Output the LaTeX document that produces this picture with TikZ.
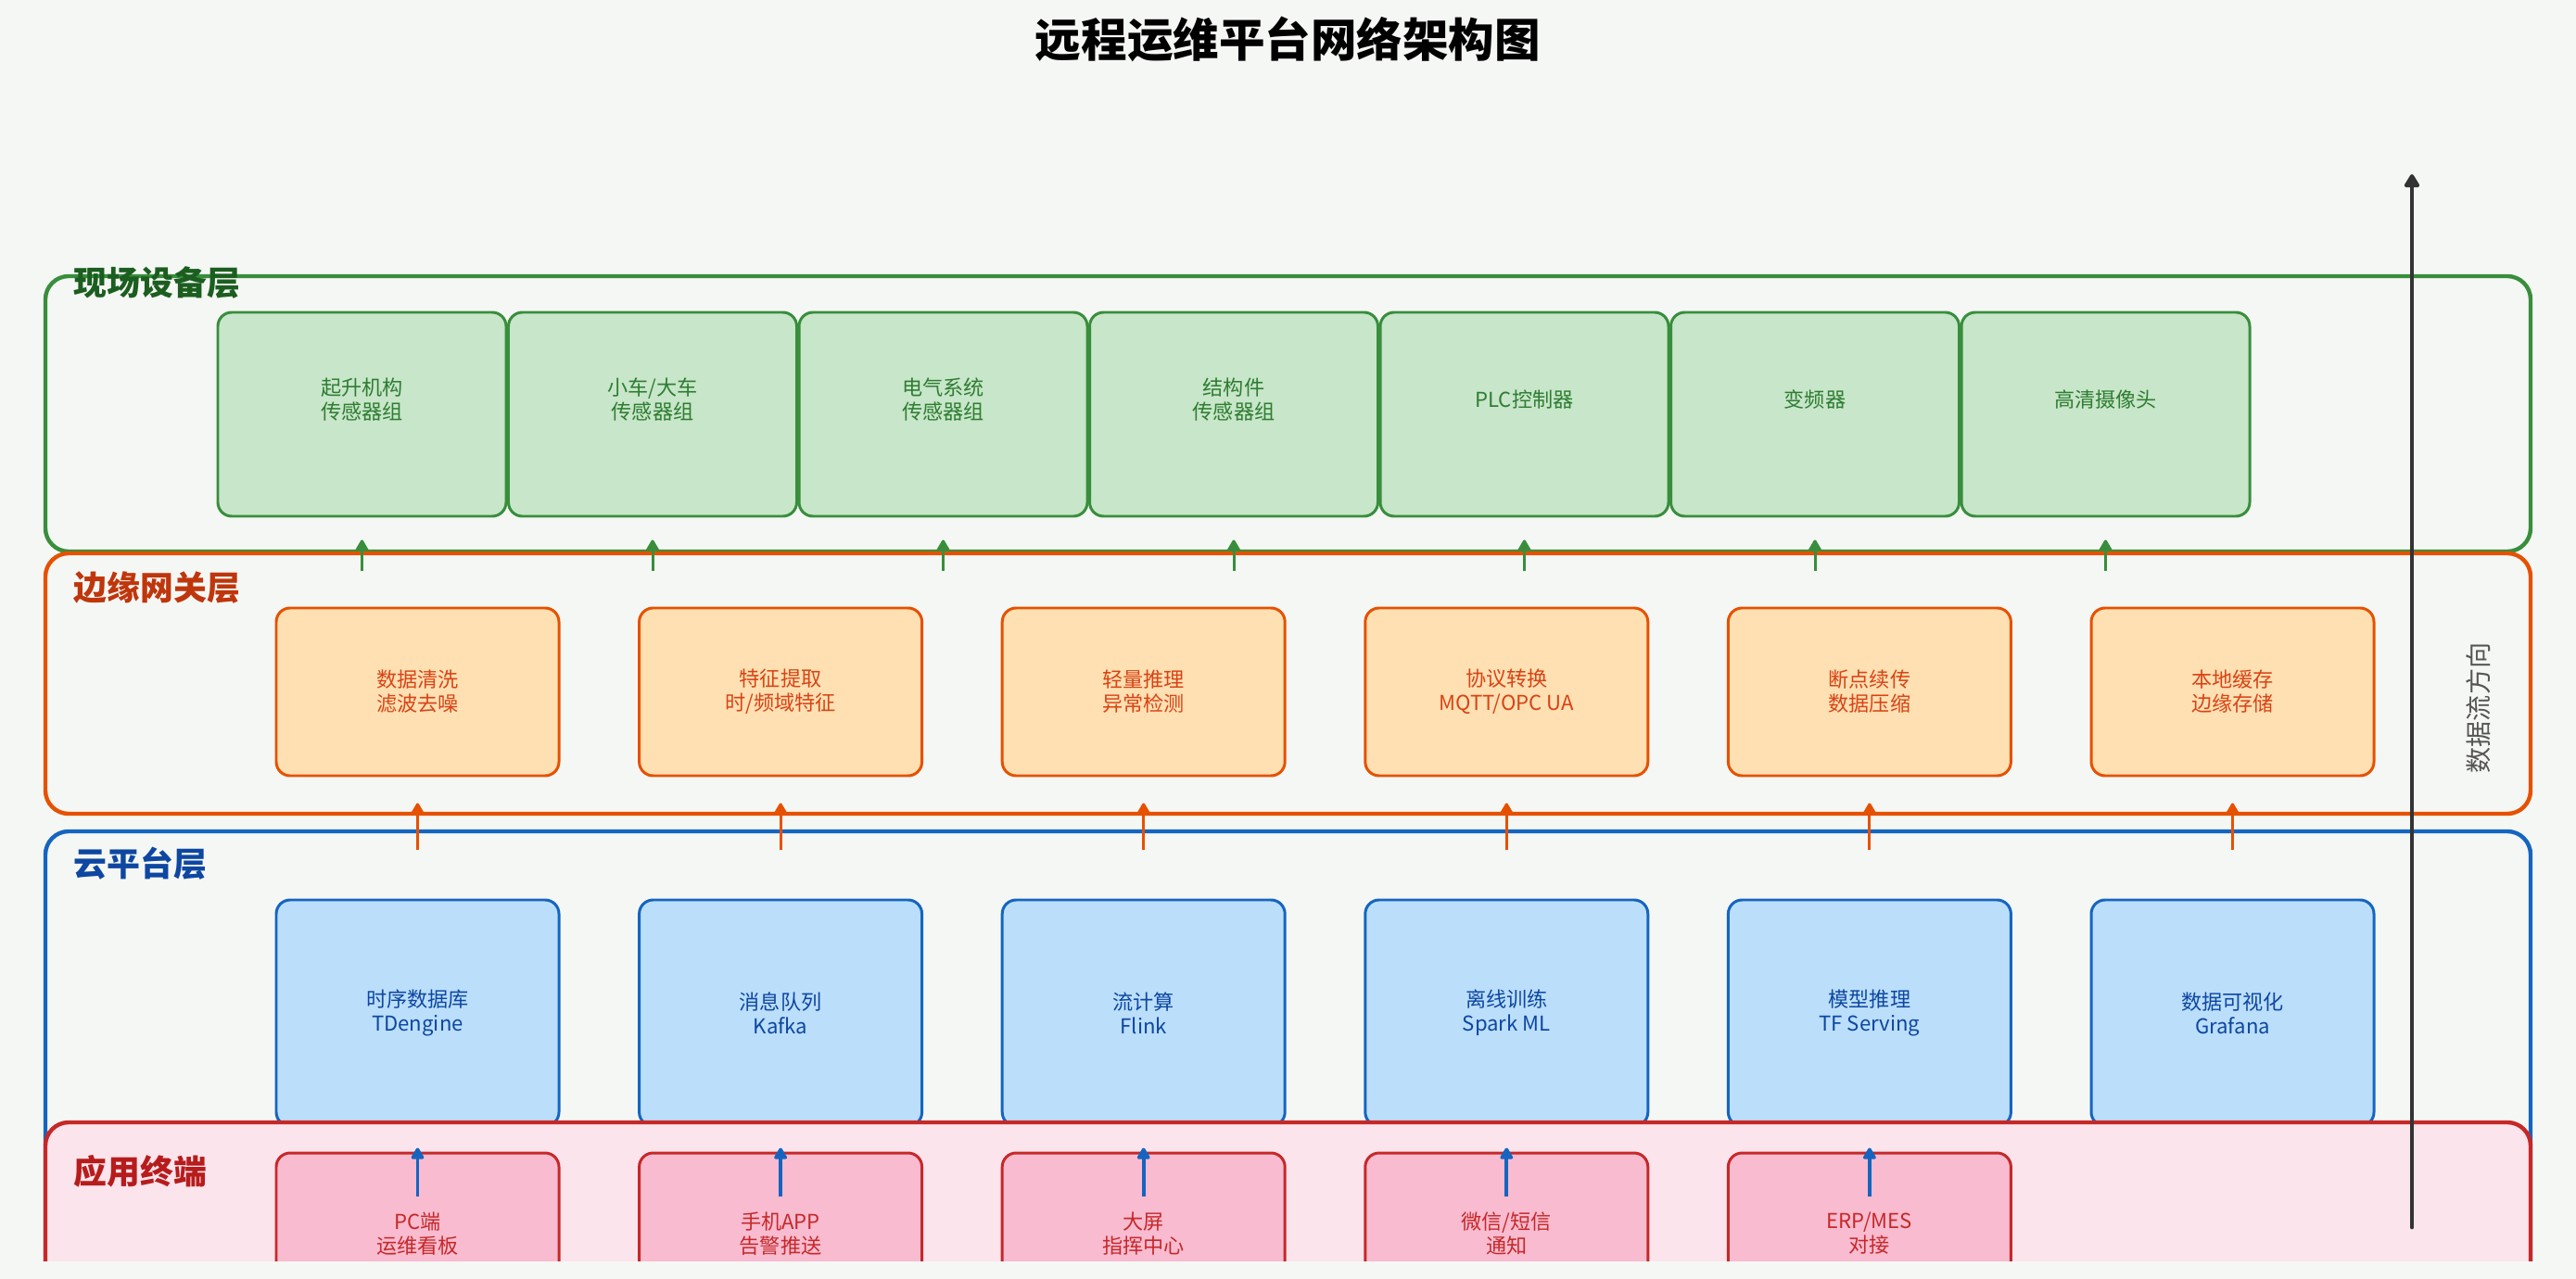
\documentclass[tikz,border=0pt]{standalone}
\usepackage{fontspec}
\setmainfont{Noto Sans CJK SC}
\usetikzlibrary{arrows.meta}

\definecolor{bgpaper}{HTML}{F5F7F4}
\definecolor{devline}{HTML}{388E3C}
\definecolor{devfill}{HTML}{C8E6C9}
\definecolor{devtext}{HTML}{2E7D32}
\definecolor{devhead}{HTML}{1B5E20}
\definecolor{edgeline}{HTML}{E65100}
\definecolor{edgefill}{HTML}{FFE0B2}
\definecolor{edgetext}{HTML}{D84315}
\definecolor{edgehead}{HTML}{BF360C}
\definecolor{cloudline}{HTML}{1565C0}
\definecolor{cloudfill}{HTML}{BBDEFB}
\definecolor{cloudtext}{HTML}{0D47A1}
\definecolor{cloudhead}{HTML}{0D47A1}
\definecolor{appline}{HTML}{C62828}
\definecolor{applayer}{HTML}{FCE4EC}
\definecolor{appfill}{HTML}{F8BBD0}
\definecolor{apptext}{HTML}{C62828}
\definecolor{apphead}{HTML}{B71C1C}
\definecolor{flowdark}{HTML}{333333}
\definecolor{flowgray}{HTML}{555555}

\begin{document}
\begin{tikzpicture}[x=1cm, y=-1cm,
		layer/.style={line width=1.25pt, rounded corners=0.25cm},
		boxtxt/.style={font=\fontsize{6.3}{7.4}\selectfont, align=center},
		roundbox/.style={boxtxt, rounded corners=0.15cm, line width=0.85pt, inner sep=0pt, minimum width=3.05cm},
		devbox/.style={roundbox, draw=devline, fill=devfill, minimum width=3.11cm, minimum height=2.2cm},
		edgebox/.style={roundbox, draw=edgeline, fill=edgefill, text=edgetext, minimum height=1.81cm},
		cloudbox/.style={roundbox, draw=cloudline, fill=cloudfill, text=cloudtext, minimum height=2.44cm},
		appbox/.style={roundbox, draw=appline, fill=appfill, text=apptext, minimum height=1.74cm},
		layertitle/.style={anchor=west, inner sep=0pt, font=\fontsize{10.2}{10.2}\selectfont\bfseries},
		uparrow/.style={line width=0.85pt, -{Triangle[length=4pt,width=4.4pt,round]}}]
	\useasboundingbox (0,0) rectangle (27.79,13.80);
	\fill[bgpaper] (0,0) rectangle (27.79,13.80);
	
	\begin{scope}
		\clip (0,0) rectangle (27.79,13.60);
		% 1. Tầng thiết bị hiện trường
		\draw[layer, draw=devline] (0.49,2.98) rectangle (27.30,5.95);
		\foreach \t [count=\i from 0] in {{起升机构\\传感器组},{小车/大车\\传感器组},{电气系统\\传感器组},{结构件\\传感器组},{PLC控制器},{变频器},{高清摄像头}} {
			\node[devbox] (g\i) at ({3.905+3.135*\i},4.47) {};
			\node[boxtxt, text=devtext] (gt\i) at ([yshift=0.16cm]g\i.center) {\t};
		}
		
		% 2. Tầng gateway biên
		\draw[layer, draw=edgeline] (0.49,5.97) rectangle (27.30,8.78);
		\foreach \i in {0,...,6}
			\draw[uparrow, devline] ([yshift=-0.58cm]g\i.south) -- ([yshift=-0.24cm]g\i.south);
		\foreach \t [count=\i from 0] in {{数据清洗\\滤波去噪},{特征提取\\时/频域特征},{轻量推理\\异常检测},{协议转换\\MQTT/OPC UA},{断点续传\\数据压缩},{本地缓存\\边缘存储}}
			\node[edgebox] (e\i) at ({4.505+3.916*\i},7.465) {\t};
		
		% 3. Tầng nền tảng đám mây
		\draw[layer, draw=cloudline] (0.49,8.97) rectangle (27.30,14.3);
		\foreach \t [count=\i from 0] in {{时序数据库\\TDengine},{消息队列\\Kafka},{流计算\\Flink},{离线训练\\Spark ML},{模型推理\\TF Serving},{数据可视化\\Grafana}}
			\node[cloudbox] (c\i) at ({4.505+3.916*\i},10.93) {\t};
		\foreach \i in {0,...,5}
			\draw[uparrow, edgeline] ([yshift=-0.79cm]e\i.south) -- ([yshift=-0.28cm]e\i.south);
		
		% 4. Tầng ứng dụng đầu cuối
		\draw[layer, draw=appline, fill=applayer] (0.49,12.11) rectangle (27.30,14.3);
		\foreach \t [count=\i from 0] in {{PC端\\运维看板},{手机APP\\告警推送},{大屏\\指挥中心},{微信/短信\\通知},{ERP/MES\\对接}} {
			\node[appbox] (r\i) at ({4.505+3.916*\i},13.31) {\t};
			\draw[uparrow, cloudline, line width=1.1pt] ([yshift=-0.48cm]r\i.north) -- ([yshift=0.04cm]r\i.north);
		}
		
		% 5. Mũi tên hướng dữ liệu
		\coordinate (flowS) at (26.02,13.24);
		\coordinate (flowN) at (26.02,1.88);
		\draw[flowdark, line width=1.4pt, line cap=round, -{Triangle[length=4.6pt,width=5.2pt,round]}] (flowS) -- (flowN);
		\node[rotate=90, text=flowgray, font=\fontsize{8}{8}\selectfont] (flowlbl) at (26.74,7.64) {数据流方向};
		
		% 6. Tiêu đề các tầng
		\node[layertitle, text=devhead] (tDev) at (0.79,3.05) {现场设备层};
		\node[layertitle, text=edgehead] (tEdge) at (0.79,6.34) {边缘网关层};
		\node[layertitle, text=cloudhead] (tCloud) at (0.79,9.32) {云平台层};
		\node[layertitle, text=apphead] (tApp) at (0.79,12.64) {应用终端};
		
		% Tiêu đề chính
		\node[font=\fontsize{14.1}{14.1}\selectfont\bfseries] (title) at (13.895,0.42) {远程运维平台网络架构图};
	\end{scope}
\end{tikzpicture}
\end{document}
